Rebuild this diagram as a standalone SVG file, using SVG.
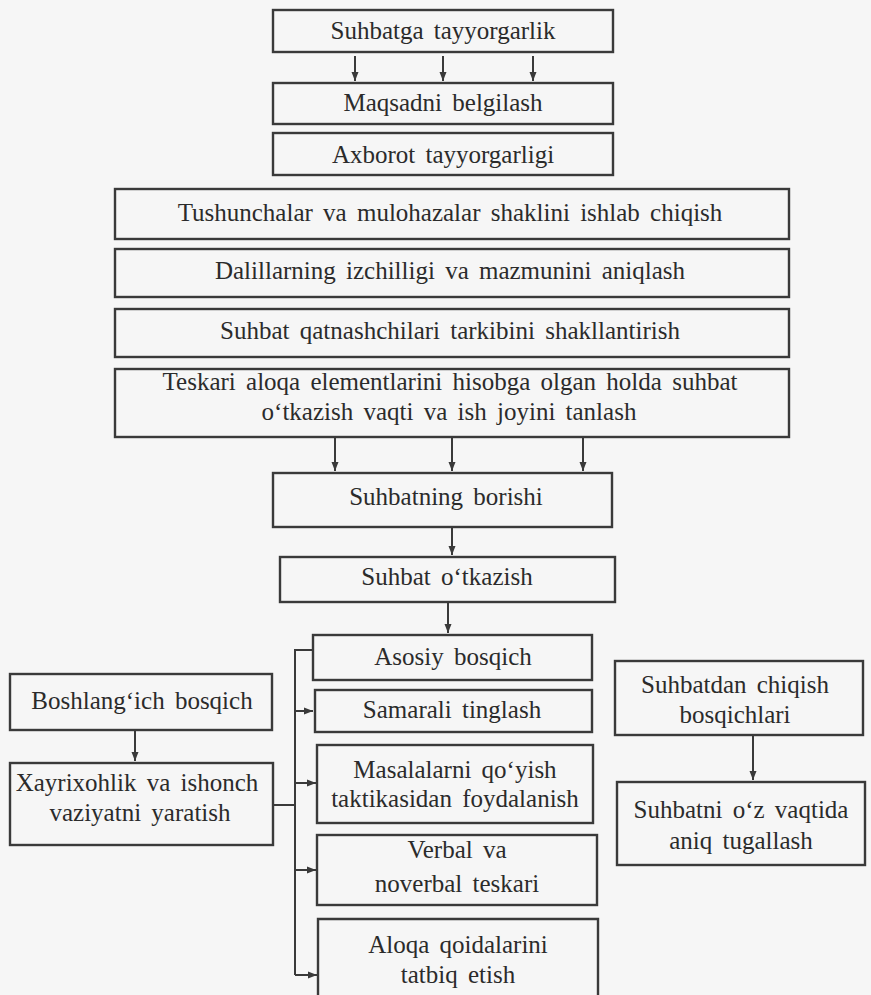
<svg xmlns="http://www.w3.org/2000/svg" width="871" height="995" viewBox="0 0 871 995">
  <style>
    .box { fill: none; stroke: #3a3a3a; stroke-width: 2.4; }
    .lbl { font-family: "Liberation Serif", "Times New Roman", serif; font-size: 25px; fill: #2b2b2b; text-anchor: middle; word-spacing: 4px; }
    .ln { fill: none; stroke: #3a3a3a; stroke-width: 2; }
    .arr { fill: none; stroke: #3a3a3a; stroke-width: 2; marker-end: url(#head); }
  </style>
  <defs>
    <marker id="head" markerUnits="userSpaceOnUse" markerWidth="10" markerHeight="10" viewBox="0 0 10 10" refX="9" refY="5" orient="auto">
      <path d="M0,1.5 L9,5 L0,8.5 z" fill="#3a3a3a"/>
    </marker>
  </defs>
  <rect width="871" height="995" fill="#f6f6f6"/>

  <!-- connectors -->
  <g id="connectors">
    <line class="arr" x1="355" y1="56" x2="355" y2="81"/>
    <line class="arr" x1="443" y1="56" x2="443" y2="81"/>
    <line class="arr" x1="533" y1="56" x2="533" y2="81"/>

    <line class="arr" x1="335" y1="438" x2="335" y2="471"/>
    <line class="arr" x1="452" y1="438" x2="452" y2="471"/>
    <line class="arr" x1="583" y1="438" x2="583" y2="471"/>

    <line class="arr" x1="452" y1="528" x2="452" y2="555"/>
    <line class="arr" x1="448" y1="603" x2="448" y2="633"/>

    <!-- bracket feeding the main-stage boxes -->
    <line class="ln" x1="295" y1="650" x2="295" y2="975"/>
    <line class="ln" x1="294" y1="650" x2="313" y2="650"/>
    <line class="arr" x1="295" y1="711" x2="313" y2="711"/>
    <line class="arr" x1="295" y1="783" x2="316" y2="783"/>
    <line class="arr" x1="295" y1="870" x2="316" y2="870"/>
    <line class="arr" x1="295" y1="975" x2="317" y2="975"/>
    <line class="ln" x1="273" y1="805" x2="295" y2="805"/>

    <line class="arr" x1="135" y1="731" x2="135" y2="761"/>
    <line class="arr" x1="753" y1="736" x2="753" y2="780"/>
  </g>

  <g id="n1"><rect class="box" x="273" y="10" width="340" height="42"/><text class="lbl" x="443" y="39">Suhbatga tayyorgarlik</text></g>
  <g id="n2"><rect class="box" x="273" y="83" width="340" height="41"/><text class="lbl" x="443" y="111">Maqsadni belgilash</text></g>
  <g id="n3"><rect class="box" x="273" y="133" width="340" height="42"/><text class="lbl" x="443" y="163">Axborot tayyorgarligi</text></g>
  <g id="n4"><rect class="box" x="115" y="189" width="674" height="50"/><text class="lbl" x="450" y="221">Tushunchalar va mulohazalar shaklini ishlab chiqish</text></g>
  <g id="n5"><rect class="box" x="115" y="249" width="674" height="48"/><text class="lbl" x="450" y="279">Dalillarning izchilligi va mazmunini aniqlash</text></g>
  <g id="n6"><rect class="box" x="115" y="309" width="674" height="48"/><text class="lbl" x="450" y="339">Suhbat qatnashchilari tarkibini shakllantirish</text></g>
  <g id="n7"><rect class="box" x="115" y="369" width="674" height="68"/>
    <text class="lbl" x="450" y="390">Teskari aloqa elementlarini hisobga olgan holda suhbat</text>
    <text class="lbl" x="449" y="420">o‘tkazish  vaqti va ish joyini tanlash</text></g>
  <g id="n8"><rect class="box" x="273" y="473" width="339" height="54"/><text class="lbl" x="446" y="505">Suhbatning borishi</text></g>
  <g id="n9"><rect class="box" x="280" y="557" width="335" height="45"/><text class="lbl" x="447" y="585">Suhbat o‘tkazish</text></g>
  <g id="n10"><rect class="box" x="313" y="635" width="279" height="45"/><text class="lbl" x="453" y="665">Asosiy bosqich</text></g>
  <g id="n11"><rect class="box" x="315" y="690" width="277" height="42"/><text class="lbl" x="452" y="718">Samarali tinglash</text></g>
  <g id="n12"><rect class="box" x="317" y="745" width="276" height="78"/>
    <text class="lbl" x="455" y="778">Masalalarni  qo‘yish</text>
    <text class="lbl" x="455" y="807">taktikasidan  foydalanish</text></g>
  <g id="n13"><rect class="box" x="317" y="835" width="280" height="70"/>
    <text class="lbl" x="457" y="858">Verbal va</text>
    <text class="lbl" x="457" y="892">noverbal  teskari</text></g>
  <g id="n14"><path class="box" d="M318,1000 V919 H598 V1000"/>
    <text class="lbl" x="458" y="953">Aloqa qoidalarini</text>
    <text class="lbl" x="458" y="983">tatbiq etish</text></g>
  <g id="n15"><rect class="box" x="10" y="674" width="262" height="56"/><text class="lbl" x="142" y="709">Boshlang‘ich  bosqich</text></g>
  <g id="n16"><rect class="box" x="10" y="763" width="263" height="82"/>
    <text class="lbl" x="137" y="791">Xayrixohlik va ishonch</text>
    <text class="lbl" x="140" y="821">vaziyatni  yaratish</text></g>
  <g id="n17"><rect class="box" x="615" y="661" width="248" height="74"/>
    <text class="lbl" x="735" y="693">Suhbatdan  chiqish</text>
    <text class="lbl" x="735" y="723">bosqichlari</text></g>
  <g id="n18"><rect class="box" x="617" y="782" width="248" height="83"/>
    <text class="lbl" x="741" y="818">Suhbatni o‘z vaqtida</text>
    <text class="lbl" x="741" y="849">aniq  tugallash</text></g>
</svg>
